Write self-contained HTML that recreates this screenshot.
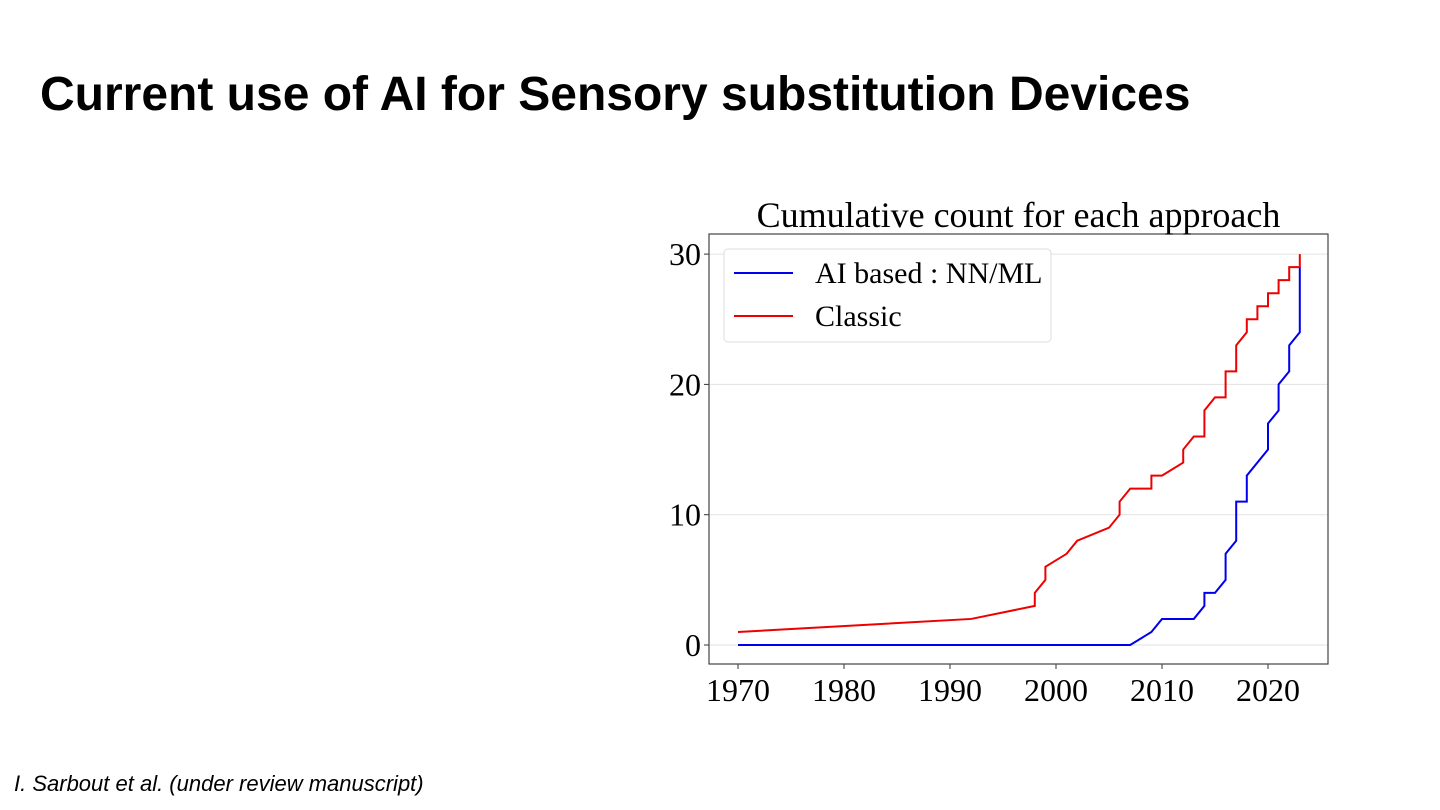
<!DOCTYPE html>
<html><head><meta charset="utf-8"><style>
body{margin:0;width:1440px;height:810px;background:#fff;overflow:hidden;position:relative;font-family:"Liberation Sans",sans-serif}
#title{position:absolute;left:40px;top:67px;font-size:48px;font-weight:bold;color:#000;margin:0}
#cite{position:absolute;left:14px;top:771px;font-size:22px;font-style:italic;color:#000}
svg{position:absolute;left:0;top:0}
</style></head><body>
<h1 id="title">Current use of AI for Sensory substitution Devices</h1>
<div id="cite">I. Sarbout et al. (under review manuscript)</div>
<svg id="chart" width="1440" height="810"></svg>
<script>
const xTicks=[1970,1980,1990,2000,2010,2020];
const yTicks=[0,10,20,30];
const aiYears=[1970,2007,2009,2010,2013,2014,2014,2015,2016,2016,2017,2017,2018,2018,2020,2020,2021,2021,2022,2022,2023,2023];
const aiCounts=[0,0,1,2,2,3,4,4,5,7,8,11,11,13,15,17,18,20,21,23,24,29];
const classicYears=[1970,1992,1998,1998,1999,1999,2001,2002,2005,2006,2006,2007,2009,2009,2010,2012,2012,2013,2014,2014,2015,2016,2016,2017,2017,2018,2018,2019,2019,2020,2020,2021,2021,2022,2022,2023,2023];
const classicCounts=[1,2,3,4,5,6,7,8,9,10,11,12,12,13,13,14,15,16,16,18,19,19,21,21,23,24,25,25,26,26,27,27,28,28,29,29,30];

const NS="http://www.w3.org/2000/svg";
const svg=document.getElementById('chart');
const L=709,R=1328,T=234,B=664;
const xs=v=>738+(v-1970)*10.6;
const ys=v=>645-v*13.03;
function mk(tag,attrs,parent){const e=document.createElementNS(NS,tag);for(const k in attrs)e.setAttribute(k,attrs[k]);(parent||svg).appendChild(e);return e;}
const serif='"Liberation Serif","DejaVu Serif",serif';
yTicks.forEach(v=>{
  const g=mk('line',{x1:L,x2:R,y1:ys(v),y2:ys(v),stroke:'#e2e2e2','stroke-width':1});
  
  
  const t=mk('line',{x1:L-5,x2:L,y1:ys(v),y2:ys(v),stroke:'#333','stroke-width':1});
  
  
  const lb=mk('text',{x:L-8,y:ys(v)+11,'text-anchor':'end','font-size':32,'font-family':serif,fill:'#000'});
  lb.textContent=v;
  
  
});
xTicks.forEach(v=>{
  const t=mk('line',{x1:xs(v),x2:xs(v),y1:B,y2:B+5,stroke:'#333','stroke-width':1});
  
  
  const lb=mk('text',{x:xs(v),y:B+37,'text-anchor':'middle','font-size':32,'font-family':serif,fill:'#000'});
  lb.textContent=v;
  
  
});
const fr=mk('rect',{x:L,y:T,width:R-L,height:B-T,fill:'none',stroke:'#444','stroke-width':1.2});


const ti=mk('text',{x:(L+R)/2,y:227,'text-anchor':'middle','font-size':36,'font-family':serif,fill:'#000'});
ti.textContent='Cumulative count for each approach';


function series(xv,yv,color,name){
  const p=mk('polyline',{points:xv.map((x,i)=>xs(x)+','+ys(yv[i])).join(' '),fill:'none',stroke:color,'stroke-width':2,'stroke-linejoin':'miter'});
  
  
}
series(aiYears,aiCounts,'#0000ee','ai-based-line');
series(classicYears,classicCounts,'#ee0000','classic-line');
const lg=mk('rect',{x:724,y:249,width:327,height:93,rx:4,fill:'#fff','fill-opacity':0.9,stroke:'#ddd','stroke-width':1});


[['#0000ee','AI based : NN/ML',273,'legend-entry-ai'],['#ee0000','Classic',316,'legend-entry-classic']].forEach(([c,txt,y,n])=>{
  const l=mk('line',{x1:734,x2:793,y1:y,y2:y,stroke:c,'stroke-width':2});
  
  
  const t=mk('text',{x:815,y:y+10,'font-size':30,'font-family':serif,fill:'#000'});
  t.textContent=txt;
  
  
});
</script>
</body></html>
